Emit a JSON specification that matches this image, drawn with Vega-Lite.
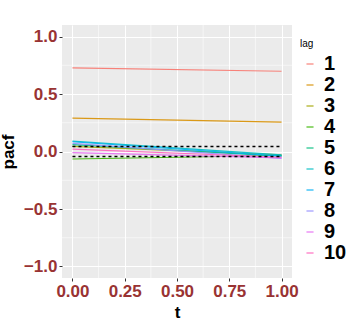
{
  "$schema": "https://vega.github.io/schema/vega-lite/v6.json",
  "width": 230,
  "height": 253,
  "autosize": "none",
  "padding": {"left": 62, "top": 25, "right": 62, "bottom": 49},
  "background": "white",
  "config": {
    "view": {"fill": "#EBEBEB", "stroke": null},
    "font": "Liberation Sans",
    "axis": {
      "domain": false,
      "gridColor": "white",
      "gridWidth": 1.1,
      "tickColor": "#333333",
      "tickSize": 3,
      "labelColor": "#993333",
      "labelFont": "Liberation Sans",
      "labelFontWeight": "bold",
      "labelFontSize": 17,
      "labelPadding": 2,
      "titleFont": "Liberation Sans",
      "titleFontWeight": "bold",
      "titleFontSize": 17,
      "titleColor": "black"
    }
  },
  "datasets": {
    "series": [
      {"lag": 1, "t": 0, "pacf": 0.728}, {"lag": 1, "t": 1, "pacf": 0.698},
      {"lag": 2, "t": 0, "pacf": 0.29}, {"lag": 2, "t": 1, "pacf": 0.255},
      {"lag": 3, "t": 0, "pacf": 0.045}, {"lag": 3, "t": 1, "pacf": -0.03},
      {"lag": 4, "t": 0, "pacf": -0.065}, {"lag": 4, "t": 1, "pacf": -0.035},
      {"lag": 5, "t": 0, "pacf": 0.06}, {"lag": 5, "t": 1, "pacf": -0.04},
      {"lag": 6, "t": 0, "pacf": 0.09}, {"lag": 6, "t": 1, "pacf": -0.03},
      {"lag": 7, "t": 0, "pacf": 0.085}, {"lag": 7, "t": 1, "pacf": -0.04},
      {"lag": 8, "t": 0, "pacf": 0.07}, {"lag": 8, "t": 1, "pacf": -0.06},
      {"lag": 9, "t": 0, "pacf": -0.01}, {"lag": 9, "t": 1, "pacf": -0.055},
      {"lag": 10, "t": 0, "pacf": 0.02}, {"lag": 10, "t": 1, "pacf": -0.05}
    ],
    "bounds": [
      {"t0": 0, "t1": 1, "b": 0.044},
      {"t0": 0, "t1": 1, "b": -0.044}
    ],
    "minorx": [{"v": 0.125}, {"v": 0.375}, {"v": 0.625}, {"v": 0.875}],
    "minory": [{"v": -0.75}, {"v": -0.25}, {"v": 0.25}, {"v": 0.75}]
  },
  "layer": [
    {
      "data": {"name": "minorx"},
      "mark": {"type": "rule", "color": "white", "strokeWidth": 0.55},
      "encoding": {
        "x": {"field": "v", "type": "quantitative", "scale": {"domain": [-0.05, 1.05], "nice": false, "zero": false}}
      }
    },
    {
      "data": {"name": "minory"},
      "mark": {"type": "rule", "color": "white", "strokeWidth": 0.55},
      "encoding": {
        "y": {"field": "v", "type": "quantitative", "scale": {"domain": [-1.1, 1.1], "nice": false, "zero": false}}
      }
    },
    {
      "data": {"name": "series"},
      "mark": {"type": "line", "strokeWidth": 1.2, "opacity": 0.9},
      "encoding": {
        "x": {"field": "t", "type": "quantitative", "title": "t",
          "scale": {"domain": [-0.05, 1.05], "nice": false, "zero": false},
          "axis": {"values": [0, 0.25, 0.5, 0.75, 1], "format": ".2f", "titlePadding": 5}},
        "y": {"field": "pacf", "type": "quantitative", "title": "pacf",
          "scale": {"domain": [-1.1, 1.1], "nice": false, "zero": false},
          "axis": {"values": [-1, -0.5, 0, 0.5, 1], "format": ".1f", "titlePadding": 6}},
        "color": {"field": "lag", "type": "nominal",
          "scale": {"domain": [1, 2, 3, 4, 5, 6, 7, 8, 9, 10],
            "range": ["#F8766D", "#D89000", "#A3A500", "#39B600", "#00BF7D", "#00BFC4", "#00B0F6", "#9590FF", "#E76BF3", "#FF62BC"]},
          "legend": {
            "orient": "none", "legendX": 238, "legendY": 14,
            "title": "lag", "titleFontSize": 10, "titleFontWeight": "normal", "titleColor": "black",
            "symbolType": "stroke", "symbolSize": 50, "symbolStrokeWidth": 1.2, "symbolOpacity": 0.9,
            "labelFontSize": 20, "labelFontWeight": "bold", "labelColor": "black",
            "rowPadding": 1, "labelOffset": 4, "fillColor": null
          }}
      }
    },
    {
      "data": {"name": "bounds"},
      "mark": {"type": "rule", "color": "black", "strokeDash": [3, 3], "strokeWidth": 1.4},
      "encoding": {
        "x": {"field": "t0", "type": "quantitative"},
        "x2": {"field": "t1"},
        "y": {"field": "b", "type": "quantitative"}
      }
    }
  ]
}
